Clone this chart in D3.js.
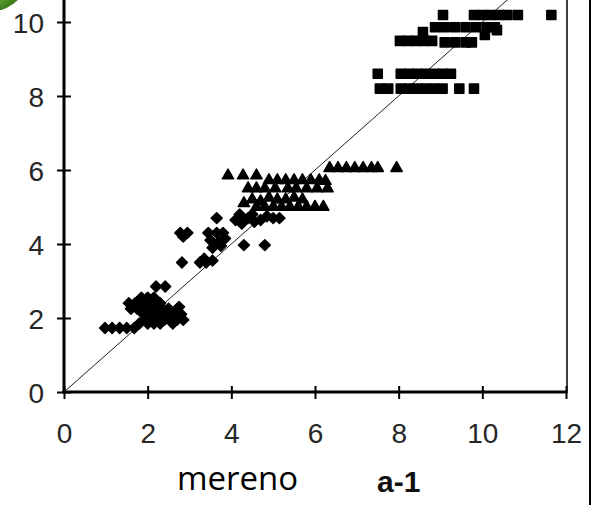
<!DOCTYPE html>
<html>
<head>
<meta charset="utf-8">
<script src="https://cdn.jsdelivr.net/npm/d3@7"></script>
<style>
  html, body { margin: 0; padding: 0; background: #fff; }
  svg { display: block; }
</style>
</head>
<body>
<svg id="chart" width="593" height="505"></svg>
<script>
// ---- data ----
const xTicks = [0, 2, 4, 6, 8, 10, 12];
const yTicks = [0, 2, 4, 6, 8, 10];
const xAxisLabel = "mereno";
const unitFragment = "a-1";

// series 1: diamonds
const diamondX = [0.98,1.15,1.33,1.50,1.68,1.80,
  1.85,2.0,2.15,
  1.55,1.7,1.85,2.0,2.15,2.3,
  1.6,1.75,1.9,2.05,2.2,2.35,2.5,2.75,
  1.9,2.05,2.2,2.35,2.5,2.65,2.8,
  1.95,2.1,2.25,2.4,2.55,2.7,2.85,
  2.0,2.15,2.3,2.6,
  2.2,2.42,
  2.78,2.95,2.85,2.82,
  3.25,3.4,3.55,3.35,3.65,
  3.45,3.65,3.8,3.5,3.7,3.55,3.85,3.75,
  4.3,4.8,
  4.1,4.25,4.4,4.55,4.7,4.85,5.0,5.15,4.2,4.5];
const diamondY = [1.73,1.73,1.73,1.73,1.73,1.85,
  2.55,2.55,2.55,
  2.4,2.4,2.4,2.4,2.4,2.4,
  2.25,2.25,2.25,2.25,2.25,2.25,2.25,2.3,
  2.1,2.1,2.1,2.1,2.1,2.1,2.1,
  1.95,1.95,1.95,1.95,1.95,1.95,1.95,
  1.85,1.85,1.85,1.85,
  2.85,2.85,
  4.3,4.3,4.2,3.5,
  3.5,3.5,3.55,3.6,4.7,
  4.3,4.3,4.3,4.1,4.05,3.9,4.15,3.95,
  3.97,3.97,
  4.65,4.55,4.7,4.6,4.65,4.75,4.7,4.7,4.8,4.8];

// series 2: triangles
const triangleX = [3.92,4.28,4.6,
  4.9,5.1,5.3,5.5,5.7,5.9,6.1,6.25,
  4.4,4.6,4.8,5.05,5.35,5.55,5.8,6.05,6.3,
  4.3,4.5,4.7,4.9,5.1,5.3,5.5,5.7,
  4.6,4.8,5.0,5.2,5.4,5.6,5.8,6.0,6.2,
  6.35,6.55,6.75,6.95,7.15,7.35,7.5,7.95];
const triangleY = [5.85,5.85,5.85,
  5.72,5.72,5.72,5.72,5.72,5.72,5.72,5.7,
  5.5,5.5,5.5,5.5,5.5,5.5,5.5,5.5,5.5,
  5.1,5.2,5.15,5.25,5.2,5.2,5.25,5.2,
  5.0,5.0,5.0,5.0,5.0,5.0,5.0,5.0,5.0,
  6.05,6.05,6.05,6.05,6.05,6.05,6.05,6.05];

// series 3: squares
const squareX = [7.5,8.05,8.25,8.45,8.65,8.85,9.05,9.25,
  7.55,7.75,8.05,8.25,8.45,8.65,8.85,9.05,9.45,9.8,
  9.06,9.8,10.0,10.2,10.4,10.6,10.85,11.65,
  8.87,9.1,9.35,9.6,9.85,10.1,10.3,8.58,
  8.03,8.22,8.41,8.6,8.8,9.1,9.35,9.6,9.75,10.06,10.35];
const squareY = [8.6,8.6,8.6,8.6,8.6,8.6,8.6,8.6,
  8.2,8.2,8.2,8.2,8.2,8.2,8.2,8.2,8.2,8.2,
  10.19,10.19,10.19,10.19,10.19,10.19,10.19,10.19,
  9.86,9.86,9.86,9.86,9.86,9.86,9.86,9.73,
  9.49,9.49,9.49,9.49,9.49,9.45,9.45,9.45,9.45,9.65,9.78];

// ---- drawing ----
const svg = d3.select("#chart");
const x = d3.scaleLinear().domain([0, 12]).range([64, 566]);
const y = d3.scaleLinear().domain([0, 10]).range([392, 22]);

// green decoration at top-left
const defs = svg.append("defs");
const grad = defs.append("radialGradient").attr("id", "gr")
  .attr("cx", "0.3").attr("cy", "0.3").attr("r", "0.75");
grad.append("stop").attr("offset", "0%").attr("stop-color", "#a6d46a");
grad.append("stop").attr("offset", "80%").attr("stop-color", "#6aa534");
grad.append("stop").attr("offset", "100%").attr("stop-color", "#3f7f1c");
svg.append("ellipse").attr("cx", -8).attr("cy", -30).attr("rx", 38).attr("ry", 41)
  .attr("fill", "url(#gr)");

// 1:1 line
svg.append("line")
  .attr("x1", x(0)).attr("y1", y(0))
  .attr("x2", x(10.75)).attr("y2", y(10.75))
  .attr("stroke", "#222").attr("stroke-width", 1);

// points
function drawSeries(xs, ys, type, size) {
  const sym = d3.symbol().type(type).size(size);
  svg.append("g").selectAll("path")
    .data(xs.map((v, i) => [v, ys[i]]))
    .join("path")
    .attr("d", sym)
    .attr("transform", d => `translate(${x(d[0])},${y(d[1])})`)
    .attr("fill", "#000")
    .attr("stroke", "#000")
    .attr("stroke-width", 1.5)
    .attr("stroke-linejoin", "round");
}
drawSeries(diamondX, diamondY, d3.symbolDiamond2, 75);
drawSeries(triangleX, triangleY, d3.symbolTriangle, 55);
drawSeries(squareX, squareY, d3.symbolSquare, 82);

// axes
const xAxis = d3.axisBottom(x).tickValues(xTicks).tickSize(0).tickPadding(0).tickFormat(d3.format("d"));
const yAxis = d3.axisLeft(y).tickValues(yTicks).tickSize(0).tickPadding(0).tickFormat(d3.format("d"));

const gx = svg.append("g").attr("transform", `translate(0,${y(0)})`).call(xAxis);
gx.select(".domain").remove();
gx.selectAll(".tick text")
  .attr("y", 51).attr("dy", 0)
  .attr("font-family", "Liberation Sans, Arial, sans-serif")
  .attr("font-size", 28).attr("fill", "#262626");
gx.selectAll(".tick").append("line")
  .attr("y1", -6).attr("y2", 7).attr("stroke", "#000").attr("stroke-width", 2);

const gy = svg.append("g").attr("transform", `translate(${x(0)},0)`).call(yAxis);
gy.select(".domain").remove();
gy.selectAll(".tick text")
  .attr("x", -20).attr("dy", "0.36em")
  .attr("font-family", "Liberation Sans, Arial, sans-serif")
  .attr("font-size", 28).attr("fill", "#262626");
gy.selectAll(".tick").append("line")
  .attr("x1", -7).attr("x2", 7).attr("stroke", "#000").attr("stroke-width", 2);

// axis lines
svg.append("line").attr("x1", x(0)).attr("x2", x(0)).attr("y1", 0).attr("y2", y(0) + 1.5)
  .attr("stroke", "#000").attr("stroke-width", 3);
svg.append("line").attr("x1", x(0) - 1.5).attr("x2", x(12) + 1).attr("y1", y(0)).attr("y2", y(0))
  .attr("stroke", "#000").attr("stroke-width", 3);
// plot right border
svg.append("line").attr("x1", x(12) + 1).attr("x2", x(12) + 1).attr("y1", 0).attr("y2", y(0) + 1)
  .attr("stroke", "#000").attr("stroke-width", 1.5);
// outer frame line
svg.append("line").attr("x1", 590).attr("x2", 590).attr("y1", 0).attr("y2", 505)
  .attr("stroke", "#000").attr("stroke-width", 2);

// bottom texts
svg.append("text").attr("x", 177).attr("y", 490)
  .attr("font-family", "Open Sans, sans-serif").attr("font-size", 33)
  .attr("fill", "#000").text(xAxisLabel);
svg.append("text").attr("x", 377).attr("y", 492)
  .attr("font-family", "Liberation Sans, Arial, sans-serif").attr("font-size", 30)
  .attr("font-weight", "bold").attr("fill", "#111").text(unitFragment);
</script>
</body>
</html>
